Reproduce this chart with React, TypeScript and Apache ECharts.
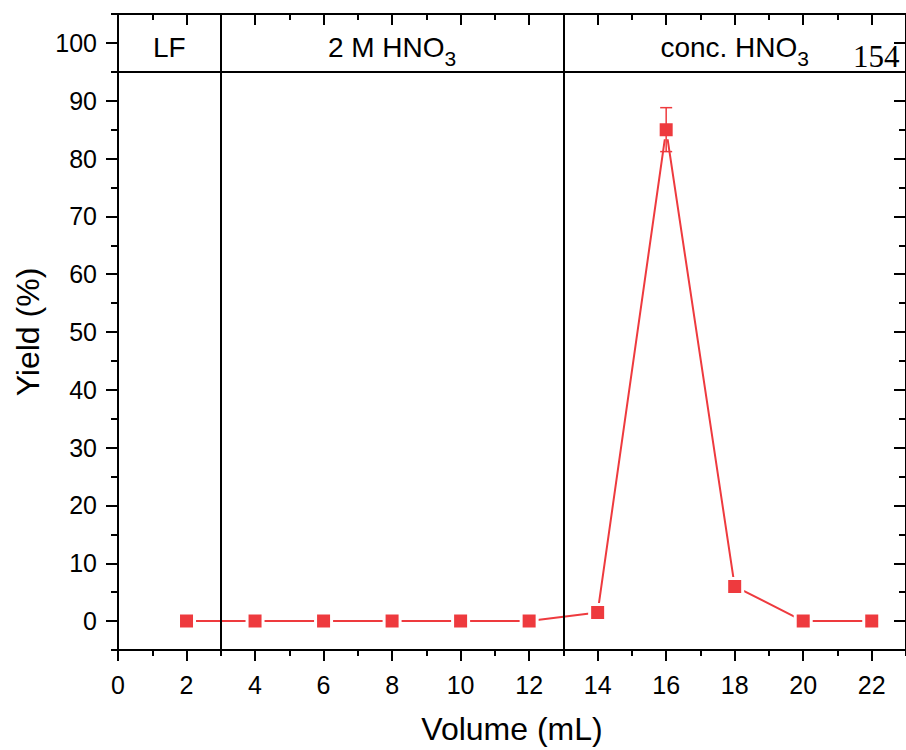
import React, { useEffect, useRef } from 'react';
import * as echarts from 'echarts';

const volumes = [2, 4, 6, 8, 10, 12, 14, 16, 18, 20, 22];
const yields = [0, 0, 0, 0, 0, 0, 1.5, 85, 6, 0, 0];
const yieldErrors = [0, 0, 0, 0, 0, 0, 0, 3.8, 0, 0, 0];

const xMajorTicks = [0, 2, 4, 6, 8, 10, 12, 14, 16, 18, 20, 22];
const xMinorTicks = [1, 3, 5, 7, 9, 11, 13, 15, 17, 19, 21, 23];
const yMajorTicks = [0, 10, 20, 30, 40, 50, 60, 70, 80, 90, 100];
const yMinorTicks = [-5, 5, 15, 25, 35, 45, 55, 65, 75, 85, 95, 105];

const sectionBounds = [0, 3, 13, 23];
const sectionLabels = ['LF', '2 M HNO{sub|3}', 'conc. HNO{sub|3}'];
const headerBand = [95, 105];
const pageNumber = '154';

const RED = '#ee3a3e';
const FONT = '"Liberation Sans", Arial, sans-serif';

export default function App() {
  const ref = useRef<HTMLDivElement>(null);

  useEffect(() => {
    if (!ref.current) return;
    const chart = echarts.init(ref.current, undefined, { renderer: 'svg' });

    const axisLine = { show: true, onZero: false, lineStyle: { color: '#000', width: 2 } };
    const noLine = { show: false, onZero: false };
    const tickStyle = { color: '#000', width: 2 };
    const baseX = { type: 'value', min: 0, max: 23, splitLine: { show: false } };
    const baseY = { type: 'value', min: -5, max: 105, splitLine: { show: false } };

    const errData = volumes
      .map((v, i) => [v, yields[i] - yieldErrors[i], yields[i] + yieldErrors[i], yieldErrors[i]])
      .filter((d) => d[3] > 0);

    const areaData = sectionLabels.map((name, i) => [
      { name, xAxis: sectionBounds[i], yAxis: headerBand[0] },
      { xAxis: sectionBounds[i + 1], yAxis: headerBand[1] },
    ]);

    const option: any = {
      animation: false,
      textStyle: { fontFamily: FONT },
      grid: { left: 118, top: 14, right: 0, bottom: 100, containLabel: false },
      xAxis: [
        {
          ...baseX,
          position: 'bottom',
          axisLine,
          axisTick: { show: true, customValues: xMajorTicks, length: 11, lineStyle: tickStyle },
          axisLabel: { customValues: xMajorTicks, fontSize: 25, color: '#000', fontFamily: FONT, margin: 22 },
          name: 'Volume (mL)',
          nameLocation: 'middle',
          nameGap: 63,
          nameTextStyle: { fontSize: 32, color: '#000', fontFamily: FONT },
        },
        {
          ...baseX,
          position: 'bottom',
          axisLine: noLine,
          axisTick: { show: true, customValues: xMinorTicks, length: 6, lineStyle: tickStyle },
          axisLabel: { show: false },
        },
        {
          ...baseX,
          position: 'top',
          axisLine,
          axisTick: { show: true, inside: true, customValues: xMajorTicks, length: 11, lineStyle: tickStyle },
          axisLabel: { show: false },
        },
        {
          ...baseX,
          position: 'top',
          axisLine: noLine,
          axisTick: { show: true, inside: true, customValues: xMinorTicks, length: 6, lineStyle: tickStyle },
          axisLabel: { show: false },
        },
      ],
      yAxis: [
        {
          ...baseY,
          position: 'left',
          axisLine,
          axisTick: { show: true, customValues: yMajorTicks, length: 12, lineStyle: tickStyle },
          axisLabel: { customValues: yMajorTicks, fontSize: 25, color: '#000', fontFamily: FONT, margin: 21 },
          name: 'Yield (%)',
          nameLocation: 'middle',
          nameGap: 72,
          nameRotate: 90,
          nameTextStyle: { fontSize: 32, color: '#000', fontFamily: FONT },
        },
        {
          ...baseY,
          position: 'left',
          axisLine: noLine,
          axisTick: { show: true, customValues: yMinorTicks, length: 7, lineStyle: tickStyle },
          axisLabel: { show: false },
        },
        {
          ...baseY,
          position: 'right',
          axisLine,
          axisTick: { show: true, inside: true, customValues: yMajorTicks, length: 12, lineStyle: tickStyle },
          axisLabel: { show: false },
        },
        {
          ...baseY,
          position: 'right',
          axisLine: noLine,
          axisTick: { show: true, inside: true, customValues: yMinorTicks, length: 7, lineStyle: tickStyle },
          axisLabel: { show: false },
        },
      ],
      series: [
        {
          type: 'line',
          xAxisIndex: 0,
          yAxisIndex: 0,
          data: volumes.map((v, i) => [v, yields[i]]),
          symbol: 'rect',
          symbolSize: 16,
          lineStyle: { color: RED, width: 2 },
          itemStyle: { color: RED, borderColor: '#fff', borderWidth: 3 },
          z: 3,
          markLine: {
            silent: true,
            symbol: ['none', 'none'],
            label: { show: false },
            lineStyle: { color: '#000', width: 2, type: 'solid' },
            emphasis: { disabled: true },
            data: [{ xAxis: sectionBounds[1] }, { xAxis: sectionBounds[2] }, { yAxis: headerBand[0] }],
          },
          markArea: {
            silent: true,
            itemStyle: { color: 'rgba(0,0,0,0)' },
            label: {
              show: true,
              position: 'inside',
              formatter: (p: any) => p.name,
              color: '#000',
              fontSize: 28,
              fontFamily: FONT,
              lineHeight: 42,
              offset: [0, 5],
              rich: {
                sub: { fontSize: 21, lineHeight: 21, verticalAlign: 'bottom', color: '#000', fontFamily: FONT },
              },
            },
            data: areaData,
          },
        },
        {
          type: 'custom',
          xAxisIndex: 0,
          yAxisIndex: 0,
          z: 4,
          data: errData,
          encode: { x: 0, y: [1, 2] },
          renderItem: (params: any, api: any) => {
            const x = api.value(0);
            const top = api.coord([x, api.value(2)]);
            const bot = api.coord([x, api.value(1)]);
            const hw = 6;
            const style = { stroke: RED, lineWidth: 1.5 };
            return {
              type: 'group',
              children: [
                { type: 'line', shape: { x1: top[0], y1: top[1], x2: bot[0], y2: bot[1] }, style },
                { type: 'line', shape: { x1: top[0] - hw, y1: top[1], x2: top[0] + hw, y2: top[1] }, style },
                { type: 'line', shape: { x1: bot[0] - hw, y1: bot[1], x2: bot[0] + hw, y2: bot[1] }, style },
              ],
            };
          },
        },
      ],
      graphic: [
        {
          type: 'text',
          x: 853,
          y: 56,
          z: 10,
          style: {
            text: pageNumber,
            font: '31px "Liberation Serif", "Times New Roman", serif',
            fill: '#000',
            verticalAlign: 'middle',
            align: 'left',
          },
        },
      ],
    };

    chart.setOption(option);
    return () => chart.dispose();
  }, []);

  return <div ref={ref} style={{ position: 'absolute', left: 0, top: 0, width: 906, height: 750 }} />;
}
